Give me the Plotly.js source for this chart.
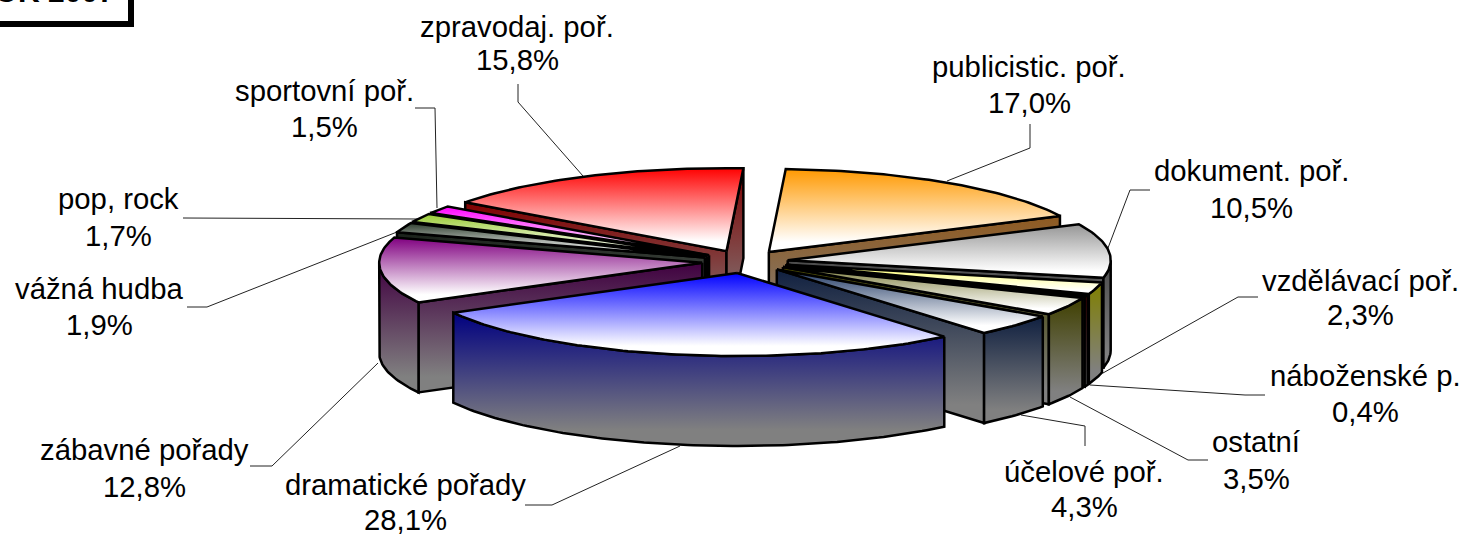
<!DOCTYPE html>
<html><head><meta charset="utf-8">
<script src="https://cdn.plot.ly/plotly-3.0.1.min.js"></script>
<style>html,body{margin:0;padding:0;background:#fff}#chart{width:1464px;height:534px}</style>
</head><body><div id="chart"></div>
<script>
// ---- data ----
const categories = ['publicistic. poř.','dokument. poř.','vzdělávací poř.','náboženské p.','ostatní','účelové poř.','dramatické pořady','zábavné pořady','vážná hudba','pop, rock','sportovní poř.','zpravodaj. poř.'];
const shares = [17.0,10.5,2.3,0.4,3.5,4.3,28.1,12.8,1.9,1.7,1.5,15.8];
const valueLabels = ['17,0%','10,5%','2,3%','0,4%','3,5%','4,3%','28,1%','12,8%','1,9%','1,7%','1,5%','15,8%'];
const titleText = 'ROK 2007';
// ---- styles ----
const topColors = ['#ff9900','#969696','#ffff66','#800000','#808040','#1f3864','#0000ff','#800080','#2f3f2f','#99cc33','#ff00ff','#ff0000'];
const wallColors = ['#8f5a20','#4b4b4b','#808000','#600000','#404000','#102040','#000080','#400040','#182018','#4d6619','#800080','#800000'];
// ---- pie geometry ----
const cx=745, cy=261.6, rx=323, ry=83, depth=90, rot=3, ex=43, ey=11.6, lw=2.5;
const rad=d=>d*Math.PI/180;
const labelPos = [[1029,66,102],[1251,170,207],[1360,280,314],[1365,375,411],[1256,441,478],[1084,471,506],[405,484,519],[144,449,486],[99,288,324],[118,198,235],[324,90,126],[517,26,59]];
const leaders = [
 [[1030,124],[1030,148],[947,181]],
 [[1150,190],[1130,190],[1108,248]],
 [[1258,297],[1238,297],[1103,373]],
 [[1265,395],[1245,395],[1090,385]],
 [[1208,460],[1188,460],[1070,397]],
 [[1085,446],[1085,426],[1021,415]],
 [[525,505],[552,505],[680,446]],
 [[250,466],[272,466],[378,363]],
 [[187,307],[207,307],[397,232]],
 [[183,218],[418,219]],
 [[415,108],[435,108],[437,208]],
 [[518,84],[518,102],[583,176]]
];
// ---- build ----
const total=shares.reduce((a,b)=>a+b,0);
let acc=0;
const slices=shares.map((v,i)=>{const a0=acc/total*360+rot; acc+=v; const a1=acc/total*360+rot; const m=(a0+a1)/2;
  return {i,a0,a1,m,tx:cx+ex*Math.sin(rad(m)),ty:cy-ey*Math.cos(rad(m))};});
const pt=(s,a)=>[s.tx+rx*Math.sin(rad(a)), s.ty-ry*Math.cos(rad(a))];
function arc(s,a0,a1){const n=Math.max(2,Math.ceil(Math.abs(a1-a0)));const r=[];for(let k=0;k<=n;k++)r.push(pt(s,a0+(a1-a0)*k/n));return r;}
function poly(pts,c0,c1){
  const xs=pts.map(p=>p[0]).concat(pts[0][0]), ys=pts.map(p=>p[1]).concat(pts[0][1]);
  return {type:'scatter',mode:'lines',x:xs,y:ys,fill:'toself',hoverinfo:'skip',showlegend:false,
    line:{color:'#000',width:lw,shape:'linear'},
    fillcolor:c0,
    fillgradient:{type:'vertical',colorscale:[[0,c1],[0.12,c1],[1,c0]]}};
}
const traces=[];
const order=slices.slice().sort((a,b)=>Math.cos(rad(b.m))-Math.cos(rad(a.m)));
order.forEach(s=>{
  const wc=wallColors[s.i], g='#808080';
  const tip=[s.tx,s.ty], down=p=>[p[0],p[1]+depth];
  [s.a0,s.a1].forEach((a,idx)=>{
    const p=pt(s,a), q=pt(s,s.m);
    // cut wall faces the viewer when the slice body lies above its edge
    const t=(q[0]-tip[0])/(p[0]-tip[0]||1e-6), edgeY=tip[1]+(p[1]-tip[1])*t;
    if(q[1]<edgeY && Math.abs(p[0]-tip[0])>1e-6) traces.push(poly([tip,p,down(p),down(tip)],wc,g));
  });
  const lo=Math.max(s.a0,90), hi=Math.min(s.a1,270);
  if(hi>lo){const top=arc(s,lo,hi); traces.push(poly(top.concat(top.slice().reverse().map(down)),wc,g));}
  traces.push(poly([tip].concat(arc(s,s.a0,s.a1)),topColors[s.i],'#ffffff'));
});
const font={family:'"Liberation Sans",Arial,sans-serif',size:29.3,color:'#000'};
const annotations=[];
categories.forEach((c,i)=>{const [x,y1,y2]=labelPos[i];
  annotations.push({text:c,x,y:y1,xref:'x',yref:'y',showarrow:false,font,xanchor:'center',yanchor:'middle'});
  annotations.push({text:valueLabels[i],x,y:y2,xref:'x',yref:'y',showarrow:false,font,xanchor:'center',yanchor:'middle'});
});
annotations.push({text:'<b>'+titleText+'</b>',x:117,y:10,xref:'x',yref:'y',showarrow:false,xanchor:'right',yanchor:'bottom',
  font:{family:'"Liberation Sans",Arial,sans-serif',size:30,color:'#000'}});
const shapes=leaders.map(l=>({type:'path',xref:'x',yref:'y',layer:'below',
  path:'M'+l.map(p=>p.join(' ')).join(' L'),line:{color:'#222',width:1}}));
shapes.push({type:'rect',xref:'x',yref:'y',x0:-20,y0:-40,x1:131,y1:24,line:{color:'#000',width:6},fillcolor:'#fff',layer:'below'});
const axis={visible:false,fixedrange:true,showgrid:false,zeroline:false};
Plotly.newPlot('chart',traces,{
  width:1464,height:534,margin:{l:0,r:0,t:0,b:0},paper_bgcolor:'#fff',plot_bgcolor:'#fff',showlegend:false,
  xaxis:{...axis,range:[0,1464]},yaxis:{...axis,range:[534,0]},annotations,shapes
},{displayModeBar:false,staticPlot:true});
</script></body></html>
